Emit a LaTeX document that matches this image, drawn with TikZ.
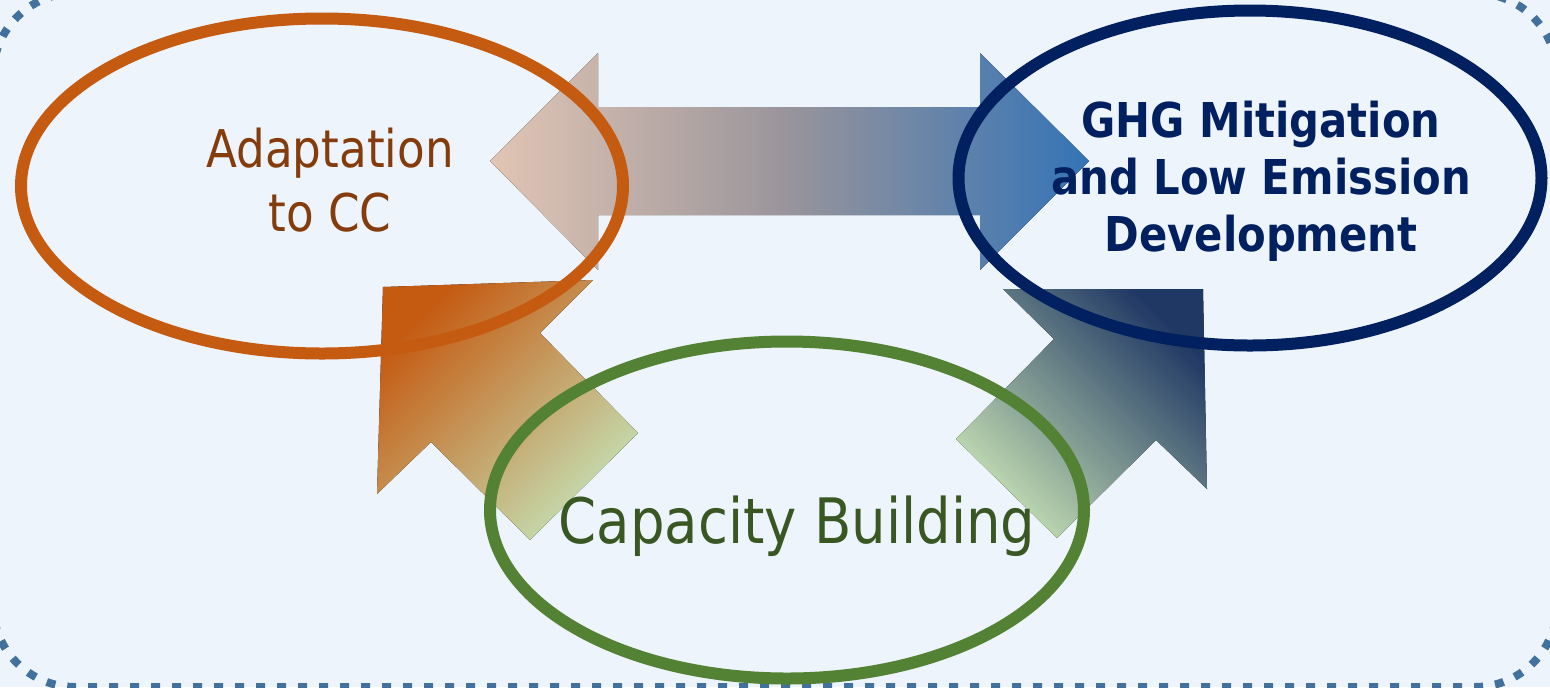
\documentclass[tikz,border=0pt]{standalone}
\usepackage{fontspec}
\newfontfamily\diagfont{DejaVu Sans}[FakeStretch=0.87]
\usepackage{tikz}
\usetikzlibrary{shapes.geometric}
\definecolor{bgblue}{RGB}{238,244,251}
\definecolor{frameblue}{RGB}{65,113,156}
\definecolor{adaptorange}{RGB}{197,90,17}
\definecolor{adaptbrown}{RGB}{132,60,12}
\definecolor{ghgnavy}{RGB}{0,32,96}
\definecolor{capgreen}{RGB}{84,130,53}
\definecolor{capdark}{RGB}{56,87,35}
\definecolor{lightgreen}{RGB}{197,224,180}
\definecolor{arrownavy}{RGB}{32,56,100}
\definecolor{peach}{RGB}{226,197,180}
\definecolor{midgrey}{RGB}{152,148,155}
\definecolor{steel}{RGB}{52,116,182}
\tikzset{every picture/.style={line width=0.75pt},
  ring/.style={ellipse, draw=#1, line width=9pt, inner sep=0pt},
  ringtext/.style={inner sep=0pt, align=center}}

\begin{document}
\begin{tikzpicture}[x=0.75pt,y=0.75pt,yscale=-1,xscale=1]
\useasboundingbox (0,0) rectangle (1550,687);
%Background
\fill[bgblue] (0,0) rectangle (1550,687);
%Shape: Rounded frame, dotted
\begin{scope}
\clip (0,0) rectangle (1550,687);
\draw[frameblue, line width=6pt, dash pattern=on 6.75pt off 9pt, rounded corners=61.5pt] (-7,-7) rectangle (1557,687);
\end{scope}

%Shape: Left-Right Arrow
\fill[left color=peach, right color=steel, middle color=midgrey] (490,161) -- (598,53) -- (598,107) -- (980,107) -- (980,53) -- (1089,161) -- (980,270) -- (980,215) -- (598,215) -- (598,270) -- cycle;
%Shape: Up-Left Arrow
\fill[top color=adaptorange, bottom color=lightgreen, shading angle=45] (383,287) -- (593,280) -- (540,333) -- (638,433) -- (530,540) -- (431,442) -- (377,494) -- cycle;
%Shape: Up-Right Arrow
\fill[top color=arrownavy, bottom color=lightgreen, shading angle=-45] (1203,289) -- (1003,289) -- (1054,339) -- (956,439) -- (1057,538) -- (1156,440) -- (1207,489) -- cycle;

%Shape: Ellipse
\node[ring=adaptorange, minimum width=451.5pt, minimum height=251.25pt] (adapt) at (322,186) {};
%Shape: Ellipse
\node[ring=ghgnavy, minimum width=437.25pt, minimum height=251.25pt] (ghg) at (1250,178) {};
%Shape: Ellipse
\node[ring=capgreen, minimum width=445.5pt, minimum height=252.75pt] (capacity) at (787,510) {};

% Text Node
\node[ringtext, text=adaptbrown, font=\diagfont\fontsize{39}{48}\selectfont] (adapttext) at (330,180) {Adaptation\\to CC};
% Text Node
\node[ringtext, text=ghgnavy, font=\diagfont\bfseries\fontsize{36}{42.75}\selectfont] (ghgtext) at (1261,181) {GHG Mitigation\\and Low Emission\\Development};
% Text Node
\node[ringtext, text=capdark, font=\diagfont\fontsize{47}{56}\selectfont, anchor=base] (captext) at (797,543) {Capacity Building};

\end{tikzpicture}
\end{document}
